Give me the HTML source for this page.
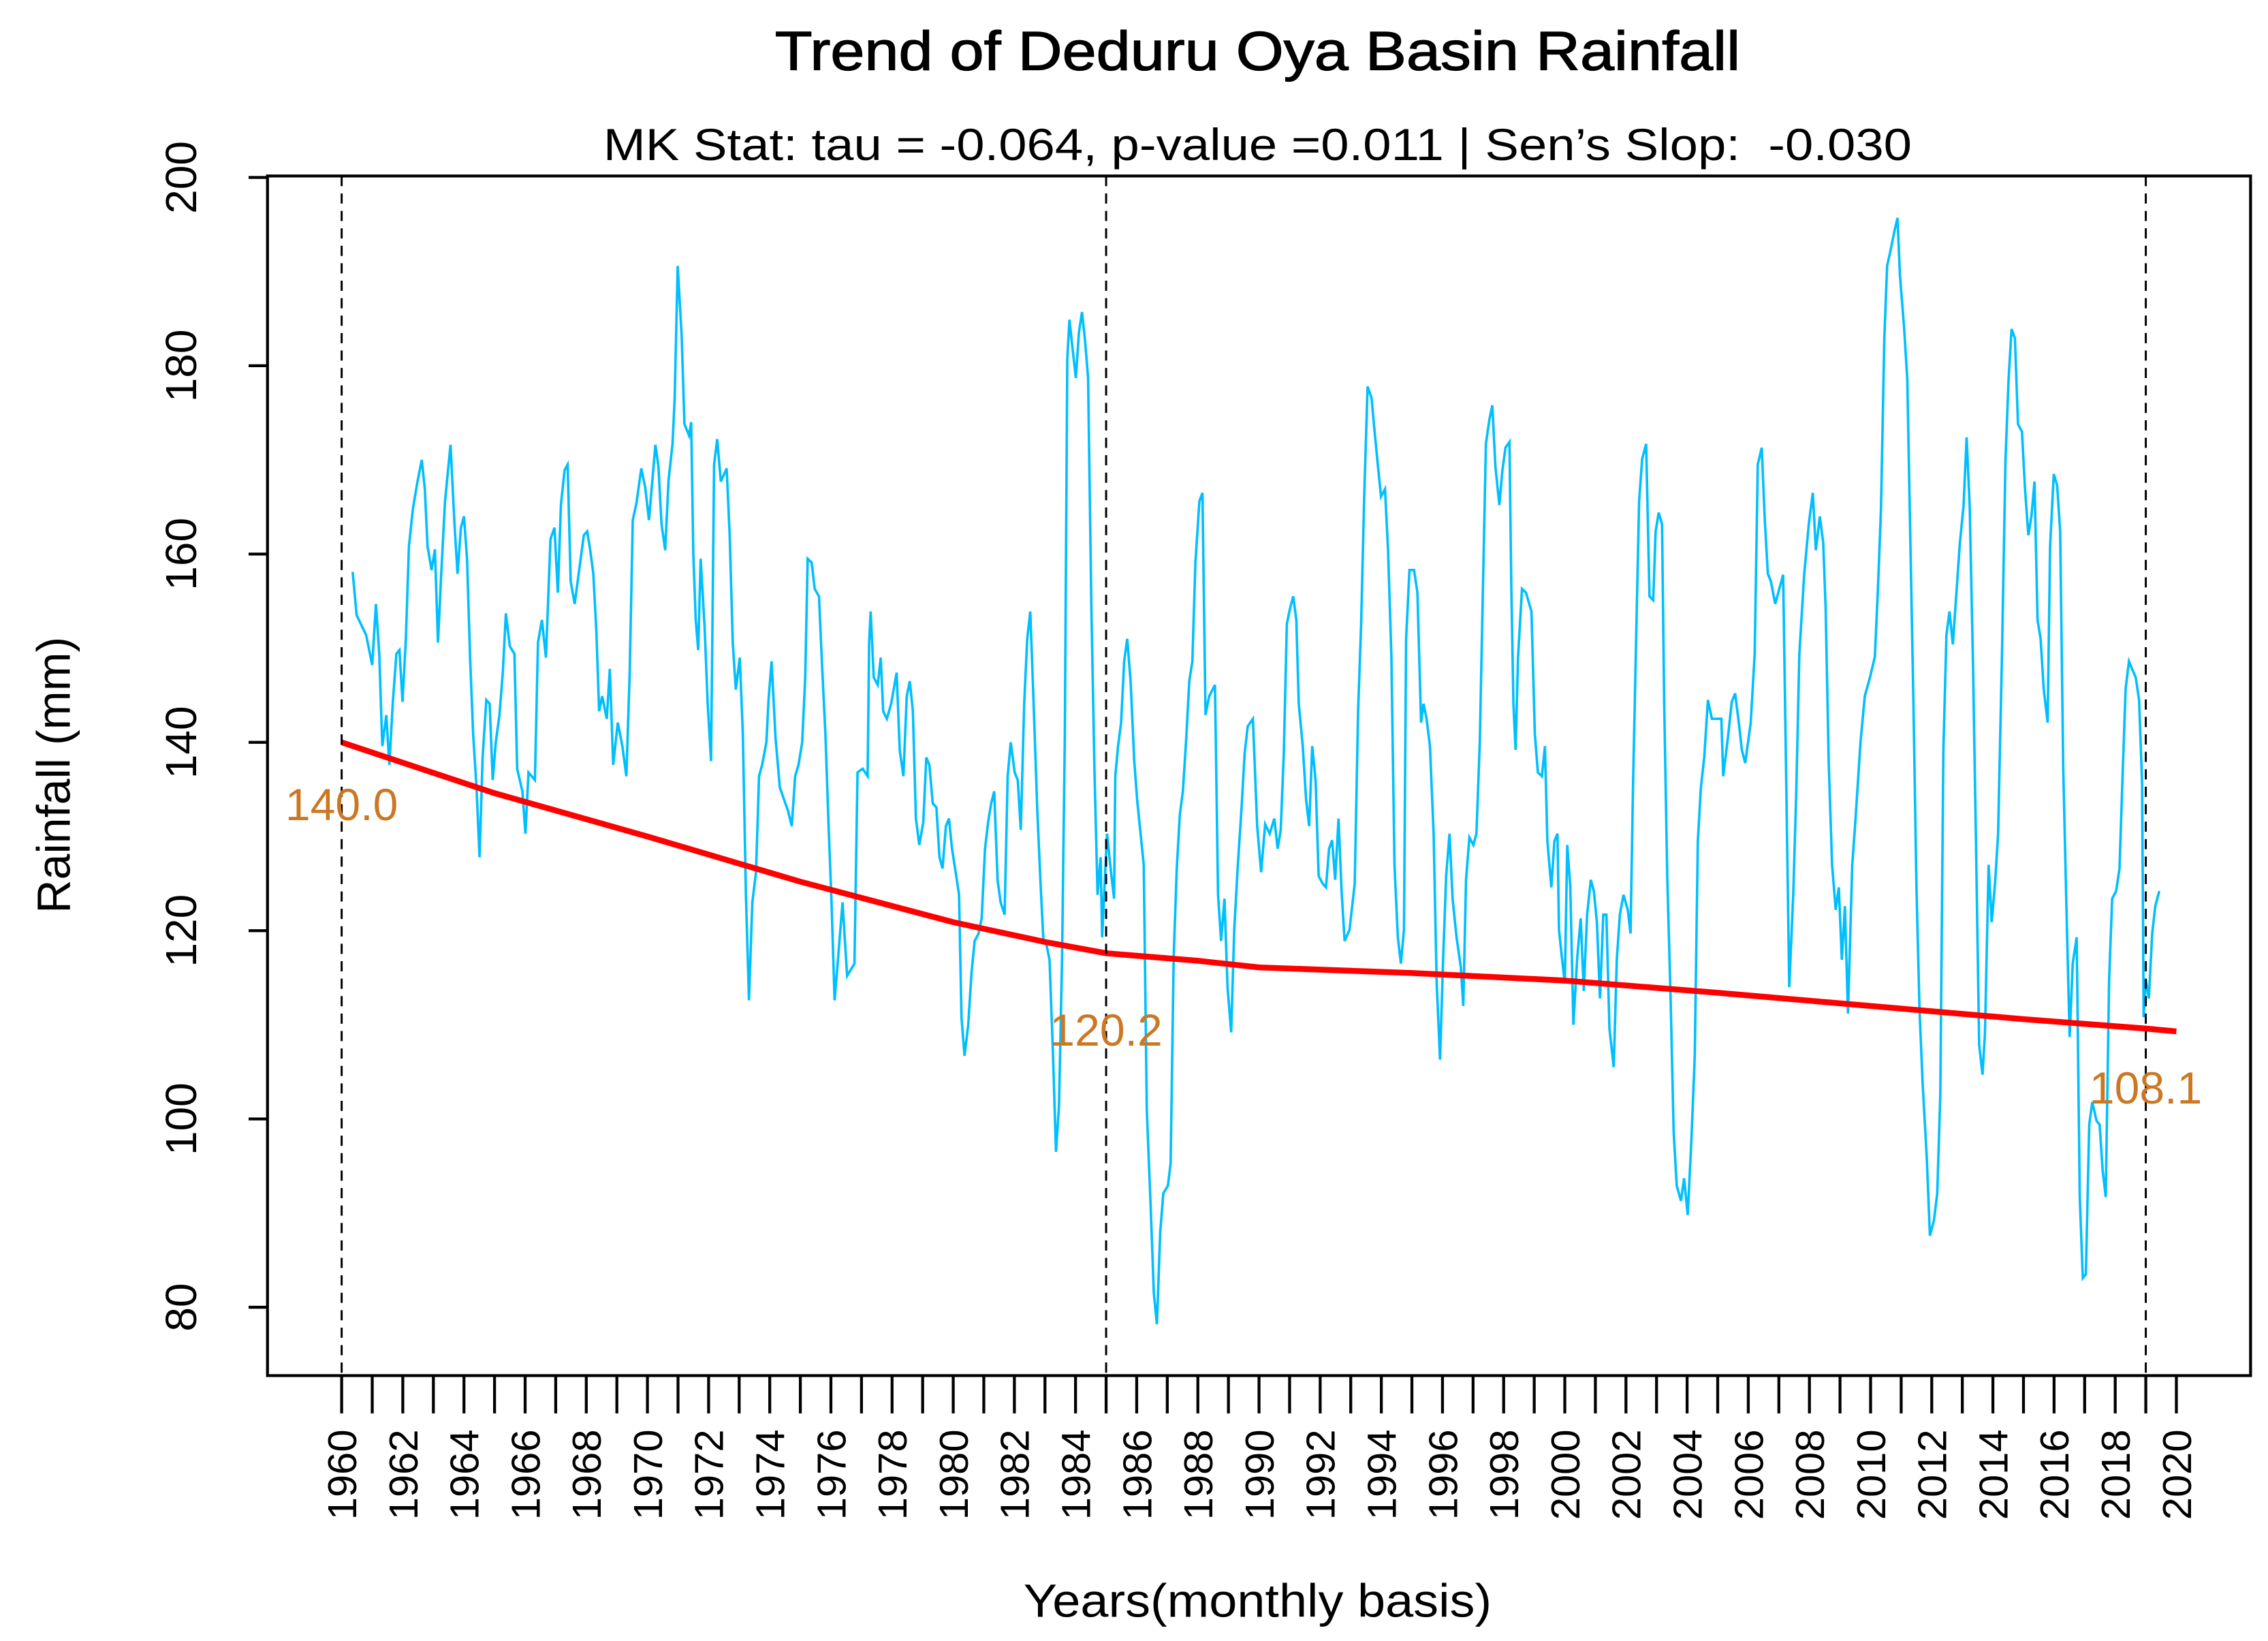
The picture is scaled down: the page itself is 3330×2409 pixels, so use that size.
<!DOCTYPE html>
<html><head><meta charset="utf-8"><style>
html,body{margin:0;padding:0;background:#fff;}
svg{display:block;}
text{font-family:"Liberation Sans",Arial,sans-serif;}
</style></head><body>
<svg id="chart" width="3330" height="2409" viewBox="0 0 1560 1128.5" xmlns="http://www.w3.org/2000/svg">
<rect x="0" y="0" width="1560" height="1128.5" fill="#fff"/>
<text x="865" y="48" text-anchor="middle" font-size="38" stroke="#000" stroke-width="0.6" textLength="664" lengthAdjust="spacingAndGlyphs">Trend of Deduru Oya Basin Rainfall</text>
<text x="865" y="110" text-anchor="middle" font-size="31" textLength="900" lengthAdjust="spacingAndGlyphs">MK Stat: tau = -0.064, p-value =0.011 | Sen’s Slop: &#160;-0.030</text>
<g id="plot"></g>
<text transform="translate(48,533) rotate(-90)" text-anchor="middle" font-size="32">Rainfall (mm)</text>
<text x="865" y="1112" text-anchor="middle" font-size="32" textLength="322" lengthAdjust="spacingAndGlyphs">Years(monthly basis)</text>
</svg>
<script>
const seriesYears=[1960.36,1960.49,1960.80,1961.00,1961.12,1961.23,1961.33,1961.46,1961.56,1961.67,1961.79,1961.89,1961.99,1962.10,1962.20,1962.33,1962.48,1962.62,1962.72,1962.81,1962.94,1963.05,1963.15,1963.25,1963.38,1963.56,1963.69,1963.79,1963.90,1964.00,1964.10,1964.20,1964.30,1964.41,1964.51,1964.61,1964.73,1964.84,1964.94,1965.04,1965.16,1965.27,1965.37,1965.50,1965.65,1965.74,1965.91,1966.01,1966.11,1966.32,1966.42,1966.55,1966.68,1966.83,1966.96,1967.07,1967.17,1967.29,1967.39,1967.49,1967.62,1967.80,1967.92,1968.03,1968.13,1968.23,1968.33,1968.42,1968.52,1968.67,1968.77,1968.88,1969.03,1969.18,1969.31,1969.42,1969.52,1969.64,1969.80,1969.93,1970.05,1970.26,1970.36,1970.46,1970.58,1970.69,1970.82,1970.89,1970.99,1971.12,1971.21,1971.36,1971.43,1971.50,1971.58,1971.66,1971.74,1971.87,1971.97,1972.08,1972.18,1972.28,1972.40,1972.59,1972.69,1972.79,1972.89,1973.02,1973.12,1973.22,1973.32,1973.43,1973.55,1973.65,1973.75,1973.89,1973.96,1974.06,1974.19,1974.33,1974.47,1974.60,1974.72,1974.83,1974.94,1975.06,1975.16,1975.24,1975.37,1975.47,1975.61,1975.71,1975.82,1975.92,1976.02,1976.12,1976.23,1976.38,1976.53,1976.77,1976.87,1977.04,1977.20,1977.25,1977.30,1977.40,1977.53,1977.63,1977.71,1977.83,1977.97,1978.15,1978.25,1978.37,1978.48,1978.58,1978.68,1978.78,1978.89,1979.02,1979.12,1979.22,1979.33,1979.45,1979.55,1979.65,1979.76,1979.86,1979.96,1980.08,1980.19,1980.27,1980.37,1980.49,1980.60,1980.70,1980.83,1980.93,1981.04,1981.14,1981.24,1981.34,1981.45,1981.55,1981.68,1981.78,1981.88,1982.01,1982.11,1982.21,1982.32,1982.42,1982.52,1982.62,1982.75,1982.85,1982.95,1983.05,1983.15,1983.26,1983.36,1983.46,1983.56,1983.65,1983.73,1983.80,1983.90,1984.01,1984.11,1984.21,1984.31,1984.41,1984.52,1984.62,1984.72,1984.82,1984.87,1985.03,1985.16,1985.26,1985.30,1985.39,1985.49,1985.59,1985.69,1985.80,1985.92,1986.02,1986.23,1986.33,1986.46,1986.56,1986.66,1986.77,1986.87,1987.02,1987.11,1987.21,1987.31,1987.41,1987.51,1987.62,1987.72,1987.82,1987.92,1988.05,1988.15,1988.25,1988.37,1988.56,1988.66,1988.76,1988.87,1988.97,1989.09,1989.19,1989.30,1989.43,1989.53,1989.63,1989.80,1989.94,1990.07,1990.20,1990.35,1990.50,1990.61,1990.71,1990.81,1990.91,1991.02,1991.12,1991.22,1991.30,1991.43,1991.54,1991.64,1991.74,1991.85,1991.95,1992.08,1992.19,1992.29,1992.39,1992.49,1992.60,1992.70,1992.80,1992.96,1993.13,1993.24,1993.34,1993.44,1993.55,1993.68,1993.78,1993.89,1993.99,1994.12,1994.22,1994.33,1994.43,1994.54,1994.64,1994.74,1994.81,1994.92,1995.07,1995.18,1995.30,1995.38,1995.48,1995.59,1995.71,1995.81,1995.92,1996.02,1996.12,1996.23,1996.33,1996.46,1996.60,1996.68,1996.77,1996.88,1997.01,1997.11,1997.22,1997.32,1997.42,1997.53,1997.63,1997.73,1997.86,1997.96,1998.06,1998.19,1998.25,1998.32,1998.39,1998.47,1998.60,1998.73,1998.91,1999.02,1999.12,1999.25,1999.35,1999.43,1999.56,1999.66,1999.76,1999.81,1999.90,2000.00,2000.08,2000.18,2000.28,2000.41,2000.52,2000.62,2000.73,2000.85,2000.95,2001.05,2001.15,2001.26,2001.36,2001.46,2001.60,2001.70,2001.80,2001.92,2002.06,2002.15,2002.23,2002.33,2002.43,2002.53,2002.66,2002.77,2002.89,2002.97,2003.07,2003.18,2003.25,2003.35,2003.46,2003.56,2003.66,2003.80,2003.90,2004.02,2004.14,2004.25,2004.35,2004.45,2004.56,2004.68,2004.81,2004.99,2005.12,2005.18,2005.33,2005.46,2005.57,2005.69,2005.79,2005.90,2006.08,2006.21,2006.31,2006.44,2006.54,2006.64,2006.74,2006.88,2007.14,2007.24,2007.34,2007.47,2007.57,2007.67,2007.83,2007.98,2008.11,2008.21,2008.34,2008.45,2008.53,2008.63,2008.74,2008.86,2008.96,2009.06,2009.16,2009.26,2009.40,2009.50,2009.67,2009.81,2009.98,2010.14,2010.24,2010.34,2010.45,2010.54,2010.65,2010.78,2010.88,2010.96,2011.09,2011.20,2011.29,2011.40,2011.50,2011.60,2011.70,2011.84,2011.94,2012.07,2012.18,2012.28,2012.38,2012.48,2012.58,2012.69,2012.79,2012.92,2013.04,2013.14,2013.24,2013.35,2013.45,2013.55,2013.66,2013.74,2013.86,2013.96,2014.07,2014.17,2014.30,2014.41,2014.51,2014.61,2014.72,2014.82,2014.95,2015.05,2015.16,2015.26,2015.36,2015.46,2015.56,2015.66,2015.79,2015.87,2015.99,2016.10,2016.20,2016.30,2016.41,2016.51,2016.61,2016.74,2016.84,2016.94,2017.04,2017.15,2017.25,2017.39,2017.49,2017.59,2017.69,2017.80,2017.90,2018.03,2018.14,2018.24,2018.34,2018.45,2018.55,2018.67,2018.78,2018.88,2018.93,2019.00,2019.10,2019.21,2019.31,2019.44];
const seriesValues=[158.1,153.5,151.4,148.2,154.7,149.4,139.6,142.9,137.6,144.1,149.4,149.8,144.3,151.0,160.8,164.8,167.7,170.0,166.9,160.8,158.3,160.5,150.6,157.5,165.6,171.6,163.2,157.9,162.8,164.0,159.5,149.0,140.9,135.2,127.8,138.4,144.5,144.1,136.0,140.0,142.9,147.4,153.7,150.2,149.4,137.2,134.8,130.3,136.8,136.0,150.6,153.0,149.0,161.6,162.8,155.9,165.2,168.9,169.5,157.1,154.7,159.1,162.0,162.4,160.4,157.9,151.8,143.3,144.9,142.5,147.8,137.6,142.1,139.6,136.4,147.4,163.6,165.4,169.1,167.0,163.6,171.6,169.3,163.2,160.4,167.8,171.7,176.5,190.6,183.1,173.8,172.6,174.0,160.0,153.0,149.8,159.5,152.2,144.1,138.0,169.5,172.2,167.7,169.1,162.0,150.6,145.6,149.0,140.9,123.8,112.6,123.0,126.2,136.4,137.6,140.0,144.5,148.6,140.4,135.2,133.9,132.7,131.1,136.4,137.6,140.0,146.9,159.5,159.1,156.3,155.5,148.2,140.9,131.5,123.0,112.6,116.9,123.0,115.2,116.5,136.8,137.2,136.4,150.6,153.9,146.9,146.1,149.0,143.3,142.5,144.1,147.4,139.2,136.4,144.9,146.5,143.3,131.9,129.1,131.5,138.4,137.6,133.5,133.1,127.8,126.6,131.1,131.9,128.7,126.2,123.8,110.8,106.7,110.0,115.6,118.9,119.7,121.3,128.7,131.5,133.5,134.8,125.4,123.0,121.7,136.4,140.0,136.8,136.0,130.7,144.1,151.0,153.9,144.9,132.7,125.4,118.9,118.5,116.9,107.1,96.5,101.4,117.3,140.9,180.7,184.9,181.9,178.7,183.5,185.7,182.7,178.7,153.9,136.8,123.8,127.8,119.3,130.3,126.2,123.4,136.4,139.6,142.1,148.6,151.0,146.5,138.0,133.7,127.0,101.0,90.4,81.5,78.2,88.0,92.1,92.9,95.3,117.3,126.6,132.3,134.8,140.4,146.5,148.6,159.1,165.6,166.5,142.9,144.9,146.1,123.8,118.9,123.4,114.0,109.2,120.1,126.6,133.1,138.8,141.7,142.5,131.1,126.2,131.3,130.3,131.9,128.7,130.7,138.8,152.6,154.3,155.5,153.0,144.1,139.6,133.9,131.1,139.6,136.0,125.8,125.0,124.6,128.7,129.6,125.4,131.9,124.2,118.9,120.1,125.0,143.3,152.6,166.1,177.8,176.6,173.0,169.3,166.1,166.9,160.4,149.0,127.0,119.3,116.5,120.1,151.0,158.3,158.3,155.9,142.1,144.1,142.5,139.6,130.3,114.4,106.3,116.9,125.8,130.3,123.4,119.3,116.1,112.0,125.4,129.9,129.1,130.3,140.0,155.9,171.7,174.2,175.8,169.3,165.2,168.9,171.3,171.9,156.7,144.1,139.2,149.0,156.3,155.9,153.9,140.9,136.8,136.4,139.6,129.5,124.6,129.5,130.3,120.1,117.3,114.4,129.1,124.6,110.0,117.3,121.3,113.6,121.7,125.4,124.2,120.9,112.8,121.7,121.7,109.6,105.5,116.9,121.7,123.8,122.2,119.7,135.2,150.6,165.6,170.1,171.7,155.5,155.1,162.4,164.4,163.2,144.1,125.8,112.8,98.6,92.9,91.3,93.7,89.8,97.8,106.7,129.5,135.2,138.4,144.5,142.5,142.5,142.5,136.4,140.4,144.3,145.2,142.1,139.2,137.8,142.1,149.4,169.5,171.3,163.6,157.9,157.1,154.7,157.8,136.0,114.0,123.8,134.8,149.4,157.9,163.2,166.5,160.4,164.0,161.2,154.3,138.0,127.0,122.2,124.6,116.9,122.6,111.2,127.0,131.5,140.0,144.9,146.9,149.1,156.3,164.8,183.0,190.6,192.2,194.3,195.7,189.6,184.3,178.6,163.2,144.3,124.6,111.6,103.9,95.7,87.6,89.2,92.1,102.6,139.2,151.4,153.9,150.4,155.1,161.2,165.1,172.4,165.2,148.2,128.7,107.9,104.7,109.1,127.0,120.9,125.0,130.3,149.8,169.9,178.4,183.9,182.9,173.8,173.0,166.9,162.0,164.0,167.7,153.0,151.0,145.7,142.1,160.8,168.5,167.3,162.4,137.2,121.7,108.7,116.5,119.3,91.7,83.1,83.5,99.4,101.8,99.8,99.4,94.5,91.7,114.8,123.4,124.2,126.6,136.4,145.7,148.6,147.8,146.9,144.5,135.6,110.8,114.8,112.8,119.7,122.6,124.2];
const trendYears=[1960,1965,1970,1975,1980,1983,1985,1988,1990,1995,2000,2005,2010,2015,2019,2020];
const trendValues=[140.0,134.6,130.0,125.2,120.9,118.8,117.6,116.8,116.1,115.5,114.7,113.4,112.0,110.6,109.6,109.3];
const markerYears=[1960,1985,2019];
const markerLabels=["140.0","120.2","108.1"];
const yTicks=[80,100,120,140,160,180,200];
const xTickStart=1960, xTickEnd=2020;

const NS="http://www.w3.org/2000/svg";
const L=184,R=1548,T=121,B=946;
const X=y=>235+(y-1960)*21.033;
const Y=v=>122+(200-v)*6.475;
const plot=document.getElementById('plot');
function mk(tag,attrs,parent){const e=document.createElementNS(NS,tag);for(const k in attrs)e.setAttribute(k,attrs[k]);(parent||plot).appendChild(e);return e;}

let d=seriesYears.map((y,i)=>(i?'L':'M')+X(y).toFixed(2)+','+Y(seriesValues[i]).toFixed(2)).join('');
const sl=mk('path',{d:d,fill:'none',stroke:'#00BFFF','stroke-width':1.7,'stroke-linejoin':'miter'});



let td=trendYears.map((y,i)=>(i?'L':'M')+X(y).toFixed(2)+','+Y(trendValues[i]).toFixed(2)).join('');
const tl=mk('path',{d:td,fill:'none',stroke:'#ff0000','stroke-width':4});



const labelY=[564,719,759];
markerYears.forEach((y,i)=>{
  const ln=mk('line',{x1:X(y),x2:X(y),y1:T,y2:B,stroke:'#000','stroke-width':1.4,'stroke-dasharray':'7,5'});
  
  
  const t=mk('text',{x:X(y),y:labelY[i],'text-anchor':'middle','font-size':31,fill:'#CC7722'});
  t.textContent=markerLabels[i];
  
  
});

const box=mk('rect',{x:L,y:T,width:R-L,height:B-T,fill:'none',stroke:'#000','stroke-width':2});



yTicks.forEach(v=>{
  const tk=mk('line',{x1:L-13,x2:L,y1:Y(v),y2:Y(v),stroke:'#000','stroke-width':2});
  
  
  const t=mk('text',{transform:`translate(135,${Y(v)}) rotate(-90)`,'text-anchor':'middle','font-size':30});
  t.textContent=String(v);
  
  
});

for(let y=xTickStart;y<=xTickEnd;y++){
  const tk=mk('line',{x1:X(y),x2:X(y),y1:B,y2:B+26,stroke:'#000','stroke-width':2});
  
  
  if((y-xTickStart)%2===0){
    const t=mk('text',{transform:`translate(${X(y)+10},983) rotate(-90)`,'text-anchor':'end','font-size':28});
    t.textContent=String(y);
    
    
  }
}
</script>
</body></html>
